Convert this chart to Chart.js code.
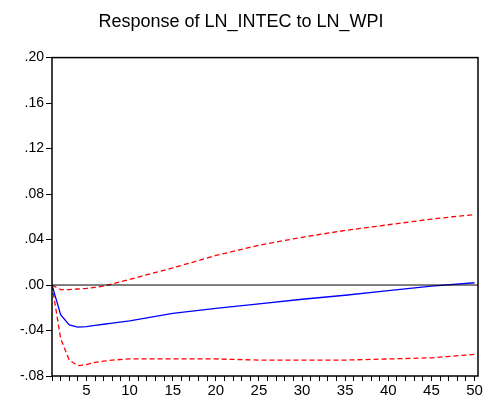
<!DOCTYPE html>
<html>
<head>
<meta charset="utf-8">
<script src="https://cdn.jsdelivr.net/npm/chart.js@4/dist/chart.umd.min.js"></script>
<style>
  html, body { margin: 0; padding: 0; background: #fff; }
</style>
</head>
<body>
<canvas id="irf" width="489" height="403"></canvas>
<script>
const periods = [1, 2, 3, 4, 5, 6, 7, 8, 10, 15, 20, 25, 30, 35, 40, 45, 50];
const response = [0, -0.026, -0.035, -0.037, -0.0365, -0.0355, -0.0345, -0.0335, -0.0315, -0.025, -0.0205, -0.0165, -0.0125, -0.009, -0.005, -0.001, 0.002];
const upperBand = [0, -0.004, -0.004, -0.0035, -0.003, -0.002, -0.001, 0.001, 0.005, 0.015, 0.026, 0.035, 0.042, 0.048, 0.053, 0.058, 0.062];
const lowerBand = [0, -0.047, -0.066, -0.071, -0.070, -0.068, -0.067, -0.066, -0.065, -0.065, -0.065, -0.066, -0.066, -0.066, -0.065, -0.064, -0.061];
const yTicks = [-0.08, -0.04, 0, 0.04, 0.08, 0.12, 0.16, 0.20];

function pts(arr) {
  return periods.map((p, i) => ({ x: p, y: arr[i] }));
}

function fmt(v) {
  const s = Math.abs(v).toFixed(2).replace(/^0/, "");
  return (v < -1e-9 ? "-" : "") + s;
}

// box around plot + zero line
const frame = {
  id: "frame",
  afterDraw(chart) {
    const { ctx, chartArea: a, scales } = chart;
    ctx.save();
    ctx.strokeStyle = "#000";
    ctx.lineWidth = 1;
    const y0 = scales.y.getPixelForValue(0);
    ctx.beginPath();
    ctx.moveTo(a.left, y0);
    ctx.lineTo(a.right, y0);
    ctx.stroke();
    ctx.lineWidth = 1.5;
    ctx.strokeRect(a.left, a.top, a.right - a.left, a.bottom - a.top);
    ctx.restore();
  }
};

new Chart(document.getElementById("irf"), {
  type: "line",
  data: {
    datasets: [
      { data: pts(response), borderColor: "#0000ff", borderWidth: 1.3, pointRadius: 0, tension: 0 },
      { data: pts(upperBand), borderColor: "#ff0000", borderWidth: 1.3, borderDash: [5, 3], pointRadius: 0, tension: 0 },
      { data: pts(lowerBand), borderColor: "#ff0000", borderWidth: 1.3, borderDash: [5, 3], pointRadius: 0, tension: 0 }
    ]
  },
  options: {
    responsive: false,
    animation: false,
    layout: { padding: { top: 4, right: 11, bottom: 2, left: 4 } },
    plugins: {
      legend: { display: false },
      tooltip: { enabled: false },
      title: {
        display: true,
        text: "Response of LN_INTEC to LN_WPI",
        color: "#000",
        font: { family: "Liberation Sans, Arial", size: 18, weight: "normal" },
        padding: { top: 7, bottom: 25 }
      }
    },
    scales: {
      x: {
        type: "linear",
        min: 1,
        max: 50.4,
        border: { display: false },
        afterBuildTicks: s => {
          s.ticks = [];
          for (let p = 1; p <= 50; p++) s.ticks.push({ value: p });
        },
        grid: { drawOnChartArea: false, tickLength: 5, color: "#000" },
        ticks: {
          autoSkip: false,
          maxRotation: 0,
          color: "#000",
          font: { family: "Liberation Sans, Arial", size: 15 },
          padding: 1,
          callback: v => (v % 5 === 0 ? String(v) : "")
        }
      },
      y: {
        min: -0.08,
        max: 0.20,
        border: { display: false },
        afterBuildTicks: s => { s.ticks = yTicks.map(v => ({ value: v })); },
        afterFit: s => { s.width = 48; },
        grid: { drawOnChartArea: false, tickLength: 6, color: "#000" },
        ticks: {
          color: "#000",
          font: { family: "Liberation Sans, Arial", size: 14 },
          padding: 2,
          callback: v => fmt(v)
        }
      }
    }
  },
  plugins: [frame]
});
</script>
</body>
</html>
